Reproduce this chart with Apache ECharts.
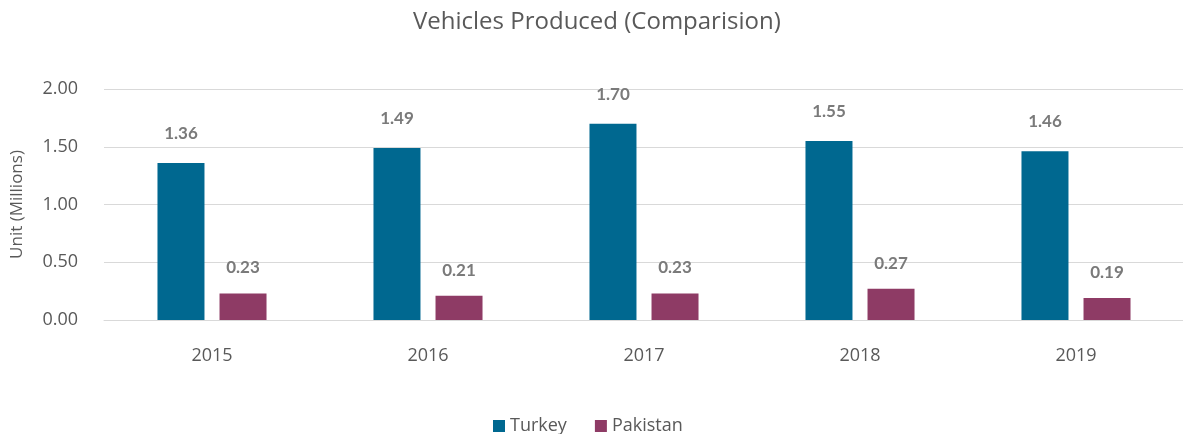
<!DOCTYPE html>
<html>
<head>
<meta charset="utf-8">
<script src="https://cdn.jsdelivr.net/npm/echarts@6/dist/echarts.min.js"></script>
<style>
  html, body { margin: 0; padding: 0; background: #ffffff; }
  #chart { width: 1183px; height: 434px; }
</style>
</head>
<body>
<div id="chart"></div>
<script>
// Production volumes, in millions of units
const years = ['2015', '2016', '2017', '2018', '2019'];
const turkey = [1.36, 1.49, 1.70, 1.55, 1.46];
const pakistan = [0.23, 0.21, 0.23, 0.27, 0.19];
const seriesNames = ['Turkey', 'Pakistan'];

const FONT = '"Open Sans", Lato, sans-serif';
const LABEL_FONT = 'Lato, "Open Sans", sans-serif';
const GREY = '#595959';

const chart = echarts.init(document.getElementById('chart'), null, { renderer: 'canvas' });

const labelStyle = (dist) => ({
  show: true,
  position: 'top',
  distance: dist,
  formatter: (p) => p.value.toFixed(2),
  fontFamily: LABEL_FONT,
  fontWeight: 'bold',
  fontSize: 17,
  color: '#7a7a7a'
});

chart.setOption({
  animation: false,
  title: {
    text: 'Vehicles Produced (Comparision)',
    left: 408,
    top: 5,
    textStyle: { fontFamily: FONT, fontWeight: 'normal', fontSize: 24, color: GREY }
  },
  legend: {
    data: seriesNames,
    bottom: -6,
    left: 488,
    itemWidth: 12,
    itemHeight: 12,
    itemGap: 28,
    icon: 'rect',
    textStyle: { fontFamily: FONT, fontSize: 18, color: GREY }
  },
  grid: {
    left: 104, right: -1, top: 89, bottom: 114,
    containLabel: false,
    outerBoundsMode: 'none'
  },
  xAxis: {
    type: 'category',
    data: years,
    axisLine: { show: true, lineStyle: { color: '#d9d9d9', width: 1 } },
    axisTick: { show: false },
    axisLabel: { fontFamily: FONT, fontSize: 18, color: GREY, margin: 27 }
  },
  yAxis: {
    type: 'value',
    min: 0,
    max: 2,
    interval: 0.5,
    name: 'Unit (Millions)',
    nameLocation: 'middle',
    nameRotate: 90,
    nameGap: 78,
    nameTextStyle: { fontFamily: FONT, fontSize: 17, color: GREY },
    axisLine: { show: false },
    axisTick: { show: false },
    splitLine: { lineStyle: { color: '#d9d9d9', width: 1 } },
    axisLabel: {
      fontFamily: FONT, fontSize: 18, color: GREY, margin: 26,
      formatter: (v) => v.toFixed(2)
    }
  },
  series: [
    {
      name: seriesNames[0],
      type: 'bar',
      data: turkey,
      barWidth: 47,
      barGap: '32%',
      itemStyle: { color: '#006890' },
      label: labelStyle(21)
    },
    {
      name: seriesNames[1],
      type: 'bar',
      data: pakistan,
      barWidth: 47,
      itemStyle: { color: '#8e3b65' },
      label: labelStyle(17)
    }
  ]
});
</script>
</body>
</html>
